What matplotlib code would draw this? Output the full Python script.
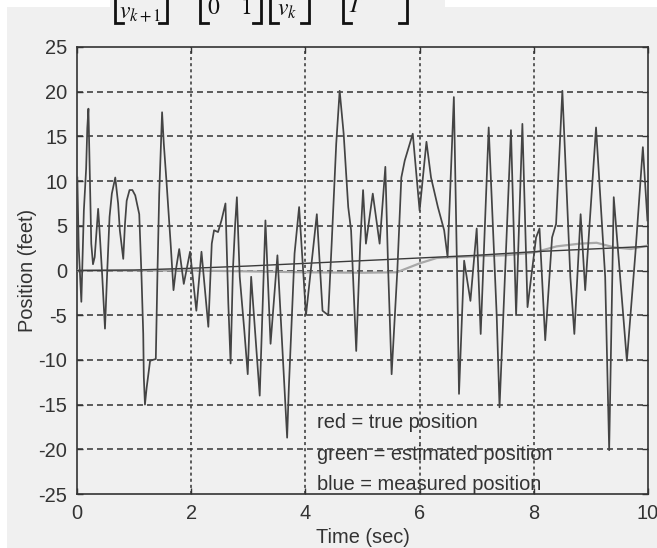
"""
Kalman filter position plot (MATLAB style, grayscale)
"""
import matplotlib
matplotlib.use("Agg")
import matplotlib.pyplot as plt
from matplotlib.patches import Rectangle
from matplotlib.lines import Line2D

# measured position (noisy)
meas_t = [0.006, 0.03, 0.076, 0.12, 0.16, 0.18, 0.20, 0.25, 0.28, 0.31, 0.37, 0.39,
          0.44, 0.49, 0.53, 0.57, 0.61, 0.67, 0.72, 0.75, 0.81, 0.84, 0.87, 0.92,
          0.97, 1.02, 1.09, 1.13, 1.16, 1.17, 1.19, 1.22, 1.28, 1.38, 1.41, 1.44,
          1.47, 1.49, 1.52, 1.57, 1.64, 1.69, 1.73, 1.79, 1.87, 1.98, 2.09, 2.18,
          2.30, 2.36, 2.40, 2.47, 2.53, 2.60, 2.65, 2.69, 2.73, 2.77, 2.80, 2.85,
          2.93, 2.99, 3.05, 3.20, 3.30, 3.39, 3.51, 3.68, 3.71, 3.81, 3.89, 4.01,
          4.12, 4.20, 4.30, 4.40, 4.46, 4.54, 4.60, 4.67, 4.75, 4.80, 4.85, 4.89,
          4.96, 5.01, 5.06, 5.18, 5.30, 5.40, 5.45, 5.51, 5.61, 5.68, 5.74, 5.88,
          6.00, 6.12, 6.20, 6.32, 6.43, 6.49, 6.60, 6.66, 6.69, 6.78, 6.89, 7.00,
          7.07, 7.21, 7.35, 7.40, 7.60, 7.69, 7.80, 7.89, 8.04, 8.10, 8.20, 8.32,
          8.39, 8.50, 8.64, 8.71, 8.82, 8.90, 9.09, 9.25, 9.32, 9.40, 9.63, 9.78,
          9.91, 9.99]
meas_pos = [10.4, 2.6, -3.5, 6.7, 11.4, 15.9, 18.1, 3.0, 0.7, 1.5, 6.9, 5.0,
            -0.4, -6.5, 0.0, 6.0, 8.6, 10.4, 7.5, 4.5, 1.3, 5.2, 7.8, 9.0,
            9.0, 8.4, 6.3, -0.7, -7.1, -11.9, -15.0, -13.1, -10.1, -9.9, 0.0, 8.6,
            14.2, 17.7, 14.2, 9.7, 3.0, -2.2, 0.0, 2.4, -1.5, 2.1, -4.5, 2.1,
            -6.3, 3.0, 4.5, 4.3, 5.6, 7.5, -3.7, -10.4, 0.0, 5.2, 8.2, -0.7,
            -6.7, -11.6, -0.7, -14.0, 5.6, -8.2, 1.7, -18.7, -13.1, 1.9, 7.1, -5.0,
            1.5, 6.3, -4.5, -5.0, 3.0, 14.2, 20.1, 15.3, 7.1, 4.5, -3.0, -9.0,
            3.0, 9.0, 3.0, 8.6, 3.0, 11.6, 0.0, -11.6, 0.0, 10.4, 12.3, 15.3,
            6.7, 14.4, 10.4, 7.1, 4.5, 1.5, 19.4, -1.5, -13.8, 1.1, -3.4, 4.7,
            -7.1, 16.0, -5.0, -15.3, 15.7, -5.0, 16.4, -4.1, 3.7, 4.7, -7.8, 3.7,
            5.2, 20.1, -0.7, -7.1, 6.3, -2.2, 16.0, -0.7, -20.1, 8.2, -10.1, 2.0,
            13.8, 5.6]

# true position
true_t = [0, 1, 2, 3, 4, 5, 6, 7, 8, 9, 10]
true_pos = [0.0, 0.05, 0.25, 0.5, 0.8, 1.1, 1.4, 1.7, 2.1, 2.4, 2.7]

# estimated position
est_t = [0, 2, 3, 4, 5, 5.6, 6.0, 6.3, 7.0, 7.5, 8.0, 8.4, 8.8, 9.1, 9.4, 9.7, 10]
est_pos = [0.0, 0.0, -0.1, -0.2, -0.25, -0.2, 0.8, 1.4, 1.6, 1.7, 2.0, 2.7, 3.0, 3.1,
           2.6, 2.4, 2.8]

x_ticks = [0, 2, 4, 6, 8, 10]
y_ticks = [-25, -20, -15, -10, -5, 0, 5, 10, 15, 20, 25]
notes = ["red = true position", "green = estimated position", "blue = measured position"]
note_y = [-17.0, -20.6, -23.9]

W, H = 657, 548
BG = "#f0f0f0"
INK = "#333333"

plt.rcParams['font.family'] = ['Liberation Sans', 'DejaVu Sans']
plt.rcParams['mathtext.fontset'] = 'stix'
plt.rcParams['lines.scale_dashes'] = False
plt.rcParams['axes.unicode_minus'] = False

fig = plt.figure(figsize=(W / 100, H / 100), dpi=100, facecolor="white")


def fx(px):
    return px / W


def fy(py):
    # py measured from top of the picture
    return 1 - py / H


# gray screenshot area + the strip of the cropped equation
fig.patches.append(Rectangle((fx(7), 0), 1 - fx(7), fy(7), transform=fig.transFigure,
                             facecolor=BG, edgecolor="none", zorder=-10))
fig.patches.append(Rectangle((fx(110), fy(7)), fx(335), 7 / H, transform=fig.transFigure,
                             facecolor=BG, edgecolor="none", zorder=-10))

# cropped equation (only the bottom row is visible)
eq_parts = [(140, 18, r"$v_{k+1}$"), (214, 14, r"$0$"), (246, 14, r"$1$"),
            (287, 16, r"$v_k$"), (355, 12, r"$T$")]
for px, py, s in eq_parts:
    fig.text(fx(px), fy(py), s, fontsize=17, ha="center", va="baseline", color="#111111")
brackets = [(115, 1), (167, -1), (200, 1), (261, -1), (270, 1), (309, -1), (343, 1), (407, -1)]
for px, d in brackets:
    fig.add_artist(Line2D([fx(px + 8 * d), fx(px), fx(px)], [fy(23), fy(23), fy(-5)],
                          transform=fig.transFigure, color="#111111", lw=2.0,
                          solid_joinstyle="miter"))

ax = fig.add_axes([fx(77), fy(494), fx(648) - fx(77), fy(47) - fy(494)])
ax.set_facecolor(BG)

ax.plot(est_t, est_pos, color="#a8a8a8", lw=1.6, zorder=3)
ax.plot(true_t, true_pos, color="#3a3a3a", lw=1.0, zorder=4)
ax.plot(meas_t, meas_pos, color="#444444", lw=1.25, zorder=5)

ax.set_xlim(0, 10)
ax.set_ylim(-25, 25)
ax.set_xticks(x_ticks)
ax.set_yticks(y_ticks)

# MATLAB-like grid
for t in x_ticks[1:-1]:
    ax.axvline(t, color=INK, lw=1.1, linestyle=(0, (2.2, 2.2)), zorder=1)
for v in y_ticks[1:-1]:
    ax.axhline(v, color=INK, lw=1.1, linestyle=(0, (4.3, 2.9)), zorder=1)

for s in ax.spines.values():
    s.set_color(INK)
    s.set_linewidth(1.2)
ax.tick_params(direction="in", length=4, width=1, top=True, right=True,
               colors=INK, labelsize=14.4, pad=7)

ax.set_xlabel("Time (sec)", fontsize=14.4, color=INK, labelpad=4)
ax.set_ylabel("Position (feet)", fontsize=14.4, color=INK, labelpad=1)

for s, v in zip(notes, note_y):
    ax.text(4.2, v, s, fontsize=14.4, color=INK, ha="left", va="center", zorder=6)

fig.savefig("out.png", dpi=100, facecolor="white")
